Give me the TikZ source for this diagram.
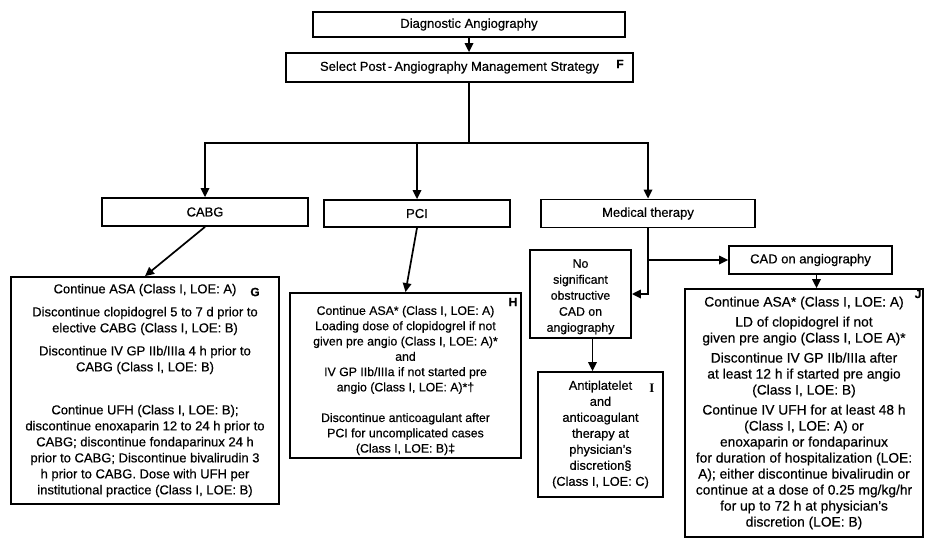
\documentclass[tikz,border=0pt]{standalone}
\usepackage{fontspec}
\setmainfont{Liberation Sans}[FakeBold=0.5]
\newfontfamily\labelserif{Liberation Serif}
\usetikzlibrary{arrows.meta}

\begin{document}
\begin{tikzpicture}[x=1pt,y=-1pt,
        >={Triangle[length=9pt,width=8.5pt]},
        box/.style={draw=black,line width=1.8pt,inner sep=2pt,align=center},
        conn/.style={line width=1.7pt},
        tag/.style={font=\fontsize{12}{12}\selectfont\bfseries,inner sep=0pt}]
        \useasboundingbox (0,0) rectangle (928,548);

        % Define the top of the chart
        \node[box,minimum width=312pt,minimum height=25pt,font=\fontsize{13}{15}\selectfont] (diag) at (469,24.5) {Diagnostic Angiography};
        \node[box,minimum width=347pt,minimum height=29pt,font=\fontsize{13}{15}\selectfont] (select) at (459.5,67.5) {Select Post\,-\,Angiography Management Strategy};
        \node[tag] (labelF) at (620,64) {F};
        \coordinate (split) at (469,143);

        % Define the three strategies
        \node[box,minimum width=206pt,minimum height=28pt,font=\fontsize{13}{15}\selectfont] (cabg) at (205,212) {CABG};
        \node[box,minimum width=186pt,minimum height=27pt,font=\fontsize{13}{15}\selectfont] (pci) at (417,213.5) {PCI};
        \node[box,minimum width=214pt,minimum height=28pt,font=\fontsize{13}{15}\selectfont] (med) at (648,213.5) {Medical therapy};

        % CABG care
        \node[box,minimum width=268pt,minimum height=227pt,font=\fontsize{13}{16}\selectfont] (cabgcare) at (145,390.5) {Continue ASA (Class I, LOE: A)\\[7pt]
            Discontinue clopidogrel 5 to 7 d prior to\\
            elective CABG (Class I, LOE: B)\\[7pt]
            Discontinue IV GP IIb/IIIa 4 h prior to\\
            CABG (Class I, LOE: B)\\[27pt]
            Continue UFH (Class I, LOE: B);\\
            discontinue enoxaparin 12 to 24 h prior to\\
            CABG; discontinue fondaparinux 24 h\\
            prior to CABG; Discontinue bivalirudin 3\\
            h prior to CABG. Dose with UFH per\\
            institutional practice (Class I, LOE: B)};
        \node[tag] (labelG) at (255,292) {G};

        % PCI care
        \node[box,minimum width=231pt,minimum height=165pt,font=\fontsize{12.3}{15.3}\selectfont] (pcicare) at (405.5,375.5) {\rule{0pt}{19pt}Continue ASA* (Class I, LOE: A)\\
            Loading dose of clopidogrel if not\\
            given pre angio (Class I, LOE: A)*\\
            and\\
            IV GP IIb/IIIa if not started pre\\
            angio (Class I, LOE: A)*\textdagger\\[15.3pt]
            Discontinue anticoagulant after\\
            PCI for uncomplicated cases\\
            (Class I, LOE: B)\textdaggerdbl};
        \node[tag] (labelH) at (513,302) {H};

        % Medical therapy branches
        \node[box,minimum width=101pt,minimum height=88pt,font=\fontsize{12.3}{16}\selectfont] (nocad) at (580.5,294) {\rule{0pt}{14pt}No\\
            significant\\
            obstructive\\
            CAD on\\
            angiography};
        \node[box,minimum width=125pt,minimum height=125pt,font=\fontsize{12.8}{16}\selectfont] (icare) at (600.5,434.5) {Antiplatelet\\
            and\\
            anticoagulant\\
            therapy at\\
            physician's\\
            discretion\S\\
            (Class I, LOE: C)};
        \node[tag,font=\fontsize{13}{13}\selectfont\labelserif\bfseries] (labelI) at (652,388) {I};
        \node[box,minimum width=163pt,minimum height=28pt,font=\fontsize{13}{15}\selectfont] (cad) at (810.5,260) {CAD on angiography};
        \node[box,minimum width=238pt,minimum height=248pt,font=\fontsize{13.8}{16}\selectfont] (jcare) at (804,413) {Continue ASA* (Class I, LOE: A)\\[4pt]
            LD of clopidogrel if not\\
            given pre angio (Class I, LOE A)*\\[4pt]
            Discontinue IV GP IIb/IIIa after\\
            at least 12 h if started pre angio\\
            (Class I, LOE: B)\\[4pt]
            Continue IV UFH for at least 48 h\\
            (Class I, LOE: A) or\\
            enoxaparin or fondaparinux\\
            for duration of hospitalization (LOE:\\
            A); either discontinue bivalirudin or\\
            continue at a dose of 0.25 mg/kg/hr\\
            for up to 72 h at physician's\\
            discretion (LOE: B)};
        \node[tag] (labelJ) at (918,294) {J};

        % Connectors
        \draw[conn,->] (diag) -- (diag |- select.north);
        \draw[conn] (split |- select.south) -- (split);
        \draw[conn,->] (split) -| (cabg);
        \draw[conn,->] (split) -| (pci);
        \draw[conn,->] (split) -| (med);
        \draw[conn,->] (cabg.south) -- (cabgcare.north);
        \draw[conn,->] (pci.south) -- (pcicare.north);
        \draw[conn,->] (med) |- (nocad);
        \draw[conn,->] (med |- cad) -- (cad);
        \draw[conn,->] ([xshift=12pt]nocad.south) -- ([xshift=12pt]nocad.south |- icare.north);
        \draw[conn,->] ([xshift=6pt]cad.south) -- ([xshift=6pt]cad.south |- jcare.north);
    \end{tikzpicture}
\end{document}
